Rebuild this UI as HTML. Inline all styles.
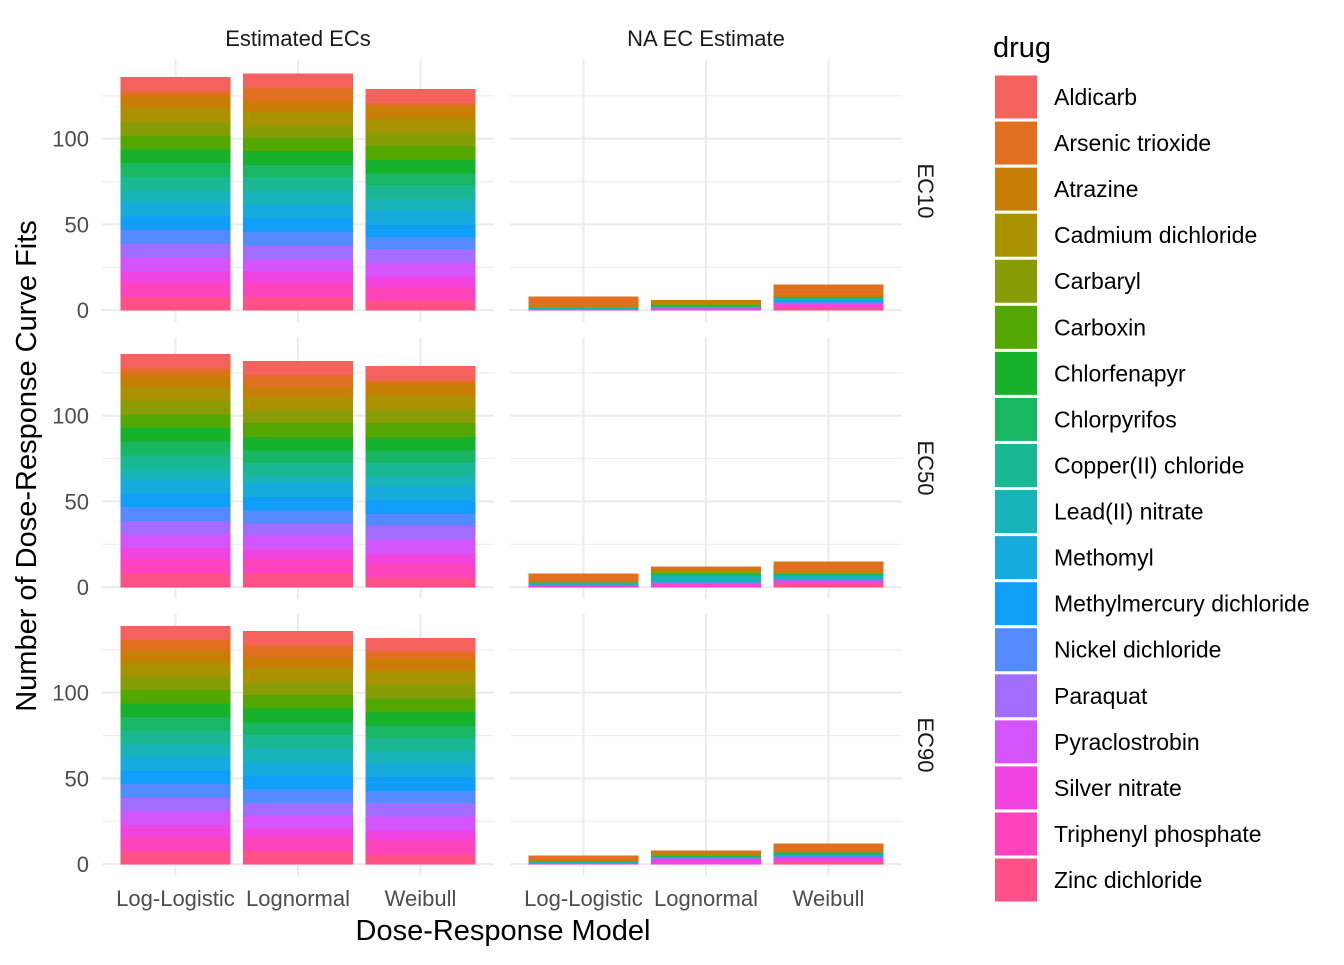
<!DOCTYPE html>
<html><head><meta charset="utf-8"><style>
html,body{margin:0;padding:0;background:#fff;}
svg text{font-family:"Liberation Sans",Arial,sans-serif;}
</style></head><body>
<svg id="chart" width="1344" height="960" xmlns="http://www.w3.org/2000/svg"></svg>
<script>
const drugs=["Aldicarb","Arsenic trioxide","Atrazine","Cadmium dichloride","Carbaryl","Carboxin","Chlorfenapyr","Chlorpyrifos","Copper(II) chloride","Lead(II) nitrate","Methomyl","Methylmercury dichloride","Nickel dichloride","Paraquat","Pyraclostrobin","Silver nitrate","Triphenyl phosphate","Zinc dichloride"];
const colors=["#F5625D","#E07020","#C87E06","#A99100","#879C07","#52A800","#17B12B","#19B764","#19B792","#19B4B9","#17ABDD","#109EF8","#538AFF","#A16DFF","#D354FA","#F143DF","#FF43BD","#FF5088"];
const models=["Log-Logistic","Lognormal","Weibull"];
const ecs=["EC10","EC50","EC90"];
const yTicks=[0,50,100];
// estimated ECs per drug, [model] per EC
const estEC10=[[8,3,7,8,8,8,8,8,8,7,8,8,8,8,8,7,8,8],[8,8,6,8,7,8,8,7,8,8,8,8,8,8,7,7,8,8],[8,2,7,8,8,8,8,7,8,7,8,7,7,8,8,6,8,6]];
const estEC50=[[8,4,7,8,8,8,8,8,8,6,8,8,8,8,8,7,8,8],[8,7,6,8,7,8,8,7,8,4,8,8,8,7,8,6,8,8],[8,2,7,8,8,8,8,7,8,6,8,8,7,8,8,6,8,6]];
const estEC90=[[8,6,7,8,8,8,8,8,8,7,8,8,8,8,8,7,8,8],[8,7,7,8,7,8,8,7,8,8,8,8,8,7,8,5,8,8],[8,4,7,8,8,8,8,7,8,7,8,8,7,8,8,6,8,6]];
// NA EC estimate counts
const naEC10=[[0,5,1,0,0,0,0,0,0,1,0,0,0,0,0,1,0,0],[0,0,2,0,1,0,0,1,0,0,0,0,0,0,1,1,0,0],[0,6,1,0,0,0,0,1,0,1,0,1,1,0,0,2,0,2]];
const naEC50=[[0,4,1,0,0,0,0,0,0,2,0,0,0,0,0,1,0,0],[0,1,2,0,1,0,0,1,0,4,0,0,0,1,0,2,0,0],[0,6,1,0,0,0,0,1,0,2,0,0,1,0,0,2,0,2]];
const naEC90=[[0,2,1,0,0,0,0,0,0,1,0,0,0,0,0,1,0,0],[0,1,1,0,1,0,0,1,0,0,0,0,0,1,0,3,0,0],[0,4,1,0,0,0,0,1,0,1,0,0,1,0,0,2,0,2]];
const est=[estEC10,estEC50,estEC90], na=[naEC10,naEC50,naEC90];

const svg=document.getElementById('chart');
const NS="http://www.w3.org/2000/svg";
function mk(tag,attrs,parent){const e=document.createElementNS(NS,tag);for(const k in attrs)e.setAttribute(k,attrs[k]);(parent||svg).appendChild(e);return e;}
const colX=[102,510], PW=392, rowTop=[60,337,614], PH=262;
const yMin=-6.95,yMax=145.95;
function yS(r,v){return rowTop[r]+PH*(yMax-v)/(yMax-yMin);}
const step=PW/3.2;
function xS(c,i){return colX[c]+step*(0.6+i);}
const bw=step*0.9;

for(let r=0;r<3;r++){
 for(let c=0;c<2;c++){
  const g=mk('g',{});
  
  
  [25,75,125].forEach(v=>{const l=mk('line',{x1:colX[c],x2:colX[c]+PW,y1:yS(r,v),y2:yS(r,v),stroke:'#ebebeb','stroke-width':1},g);});
  yTicks.forEach(v=>{const l=mk('line',{x1:colX[c],x2:colX[c]+PW,y1:yS(r,v),y2:yS(r,v),stroke:'#ebebeb','stroke-width':2},g);});
  models.forEach((m,i)=>{const l=mk('line',{x1:xS(c,i),x2:xS(c,i),y1:rowTop[r],y2:rowTop[r]+PH,stroke:'#ebebeb','stroke-width':2},g);});
  const data=c==0?est[r]:na[r];
  models.forEach((m,i)=>{
   let cum=0;
   for(let d=drugs.length-1;d>=0;d--){
    const v=data[i][d]; if(v<=0)continue;
    const y1=yS(r,cum+v),y0=yS(r,cum);
    const b=mk('rect',{x:xS(c,i)-bw/2,y:y1,width:bw,height:y0-y1+0.5,fill:colors[d],'shape-rendering':'crispEdges'},g);
    
    
    cum+=v;
   }
  });
 }
 yTicks.forEach(v=>{const t=mk('text',{x:89,y:yS(r,v)+8,'text-anchor':'end','font-size':22,fill:'#4d4d4d'});t.textContent=v;});
 const cy=rowTop[r]+PH/2;
 const st=mk('text',{x:918,y:cy,'text-anchor':'middle','font-size':22,fill:'#1a1a1a',transform:`rotate(90 918 ${cy})`});
 st.textContent=ecs[r];
}
["Estimated ECs","NA EC Estimate"].forEach((s,c)=>{const t=mk('text',{x:colX[c]+PW/2,y:46,'text-anchor':'middle','font-size':22,fill:'#1a1a1a'});t.textContent=s;});
for(let c=0;c<2;c++)models.forEach((m,i)=>{const t=mk('text',{x:xS(c,i),y:906,'text-anchor':'middle','font-size':22,fill:'#4d4d4d'});t.textContent=m;});
let t=mk('text',{x:503,y:940,'text-anchor':'middle','font-size':29,fill:'#000'});t.textContent="Dose-Response Model";
t=mk('text',{x:36,y:466,'text-anchor':'middle','font-size':29,fill:'#000',transform:'rotate(-90 36 466)'});t.textContent="Number of Dose-Response Curve Fits";
t=mk('text',{x:993,y:57,'font-size':29,fill:'#000'});t.textContent="drug";
drugs.forEach((d,k)=>{
 const g=mk('g',{});
 const cy=97+k*46.06;
 mk('rect',{x:995,y:cy-21.5,width:42,height:43,fill:colors[k]},g);
 const tt=mk('text',{x:1054,y:cy+8,'font-size':23,fill:'#000'},g);tt.textContent=d;
});
</script>
</body></html>
